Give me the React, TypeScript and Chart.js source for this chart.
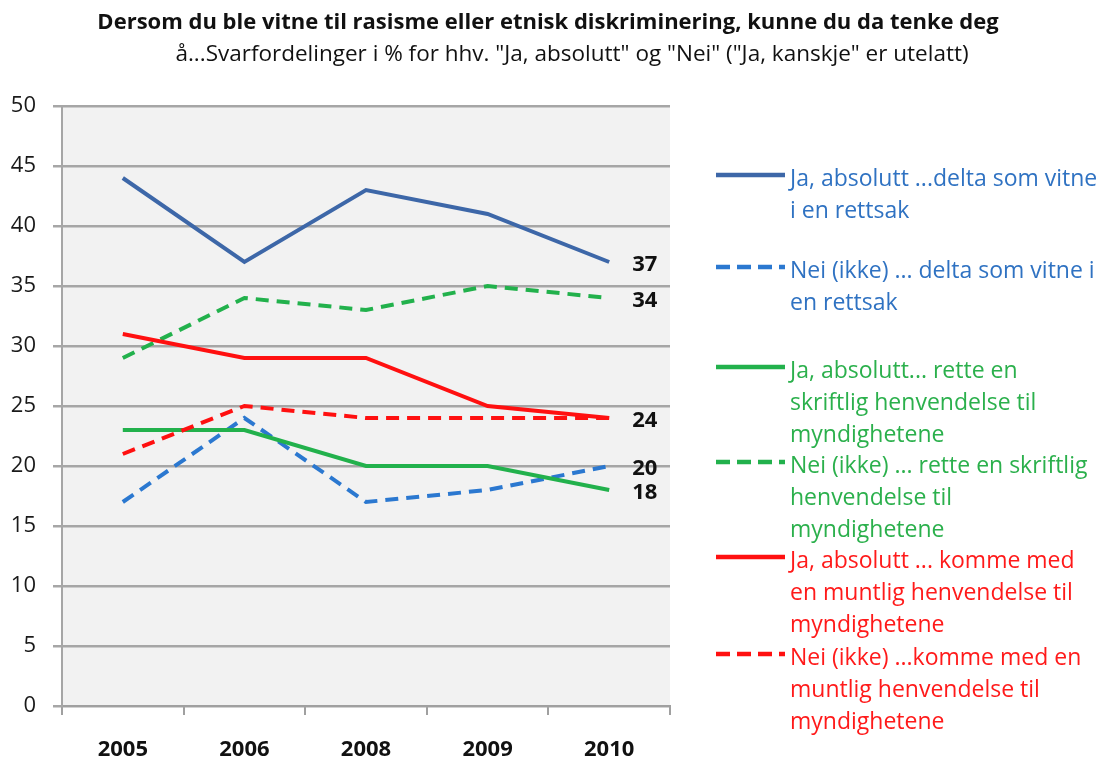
import React, { useEffect, useRef } from "react";
import { Chart, registerables } from "chart.js";

Chart.register(...registerables);

const years = ["2005", "2006", "2008", "2009", "2010"];
const jaVitne = [44, 37, 43, 41, 37];
const neiVitne = [17, 24, 17, 18, 20];
const jaSkriftlig = [23, 23, 20, 20, 18];
const neiSkriftlig = [29, 34, 33, 35, 34];
const jaMuntlig = [31, 29, 29, 25, 24];
const neiMuntlig = [21, 25, 24, 24, 24];

const titleLine1 = "Dersom du ble vitne til rasisme eller etnisk diskriminering, kunne du da tenke deg";
const titleLine2 = 'å...Svarfordelinger i % for hhv. "Ja, absolutt" og "Nei" ("Ja, kanskje" er utelatt)';

const legendLabels = [
  ["Ja, absolutt ...delta som vitne", "i en rettsak"],
  ["Nei (ikke) ... delta som vitne i", "en rettsak"],
  ["Ja, absolutt... rette en", "skriftlig henvendelse til", "myndighetene"],
  ["Nei (ikke) ... rette en skriftlig", "henvendelse til", "myndighetene"],
  ["Ja, absolutt ... komme med", "en muntlig henvendelse til", "myndighetene"],
  ["Nei (ikke) ...komme med en", "muntlig henvendelse til", "myndighetene"],
];

const FONT = "'Open Sans', Lato, sans-serif";
const legendTop = [179, 271, 371, 466, 561, 658];

export default function App() {
  const ref = useRef<HTMLCanvasElement | null>(null);

  useEffect(() => {
    if (!ref.current) return;
    const blueSolid = "#3d67a8";
    const blueDash = "#2b78d0";
    const green = "#22b14c";
    const red = "#ff1010";
    const textColors = ["#2f72c2", "#2f72c2", "#2bb04c", "#2bb04c", "#ff1a1a", "#ff1a1a"];

    const datasets: any[] = [
      { label: legendLabels[0].join(" "), data: jaVitne, borderColor: blueSolid, borderDash: [], endLabel: true },
      { label: legendLabels[1].join(" "), data: neiVitne, borderColor: blueDash, borderDash: [13, 8], endLabel: true },
      { label: legendLabels[2].join(" "), data: jaSkriftlig, borderColor: green, borderDash: [], endLabel: true },
      { label: legendLabels[3].join(" "), data: neiSkriftlig, borderColor: green, borderDash: [13, 8], endLabel: true },
      { label: legendLabels[4].join(" "), data: jaMuntlig, borderColor: red, borderDash: [], endLabel: true },
      { label: legendLabels[5].join(" "), data: neiMuntlig, borderColor: red, borderDash: [13, 8], endLabel: false },
    ].map((d, i) => ({
      ...d,
      borderWidth: 4,
      pointRadius: 0,
      tension: 0,
      fill: false,
      order: 6 - i,
    }));

    const custom = {
      id: "custom",
      beforeDraw(chart: any) {
        const { ctx, chartArea: a } = chart;
        ctx.save();
        ctx.fillStyle = "#f2f2f2";
        ctx.fillRect(a.left, a.top, a.right - a.left, a.bottom - a.top);
        ctx.restore();
      },
      afterDraw(chart: any) {
        const { ctx } = chart;
        ctx.save();
        // Title
        ctx.fillStyle = "#111";
        ctx.textAlign = "center";
        ctx.textBaseline = "middle";
        ctx.font = `bold 22px ${FONT}`;
        ctx.fillText(titleLine1, 548, 23, 910);
        ctx.font = `22.5px ${FONT}`;
        ctx.fillText(titleLine2, 572, 55, 800);

        // End labels
        ctx.font = `bold 22px ${FONT}`;
        ctx.textAlign = "left";
        ctx.fillStyle = "#111";
        chart.data.datasets.forEach((ds: any, i: number) => {
          if (!ds.endLabel) return;
          const meta = chart.getDatasetMeta(i);
          const pt = meta.data[meta.data.length - 1];
          ctx.fillText(String(ds.data[ds.data.length - 1]), pt.x + 23, pt.y + 3);
        });

        // Legend
        chart.data.datasets.forEach((ds: any, i: number) => {
          const y0 = legendTop[i];
          ctx.strokeStyle = ds.borderColor;
          ctx.lineWidth = 4.5;
          ctx.setLineDash(ds.borderDash && ds.borderDash.length ? [14, 7] : []);
          ctx.beginPath();
          ctx.moveTo(716, y0 - 4);
          ctx.lineTo(785, y0 - 4);
          ctx.stroke();
          ctx.setLineDash([]);
          ctx.fillStyle = textColors[i];
          ctx.font = `23px ${FONT}`;
          ctx.textAlign = "left";
          ctx.textBaseline = "middle";
          legendLabels[i].forEach((line, j) => {
            ctx.fillText(line, 790, y0 + j * 32, 318);
          });
        });
        ctx.restore();
      },
    };

    const chart = new Chart(ref.current, {
      type: "line",
      data: { labels: years, datasets },
      options: {
        responsive: false,
        animation: false,
        layout: { padding: { left: 0, right: 439, top: 106, bottom: 0 } },
        plugins: { legend: { display: false }, title: { display: false }, tooltip: { enabled: false } },
        scales: {
          x: {
            offset: true,
            grid: { display: true, drawOnChartArea: false, drawTicks: true, tickLength: 9, color: "#a0a0a0", lineWidth: 2, offset: true },
            border: { display: true, color: "#a0a0a0", width: 2 },
            ticks: { font: { family: FONT, size: 22, weight: "bold" }, color: "#111", padding: 22 },
            afterFit: (s: any) => { s.height = 54; },
          },
          y: {
            min: 0,
            max: 50,
            ticks: { stepSize: 5, font: { family: FONT, size: 22 }, color: "#1a1a1a", padding: 17 },
            grid: { color: "#a6a6a6", lineWidth: 2.5, tickLength: 9 },
            border: { display: true, color: "#a6a6a6", width: 2 },
            afterFit: (s: any) => { s.width = 62; },
          },
        },
      },
      plugins: [custom],
    });
    return () => chart.destroy();
  }, []);

  return (
    <div style={{ position: "fixed", left: 0, top: 0, width: 1109, height: 760, background: "#fff" }}>
      <canvas ref={ref} width={1109} height={760} style={{ display: "block" }} />
    </div>
  );
}
